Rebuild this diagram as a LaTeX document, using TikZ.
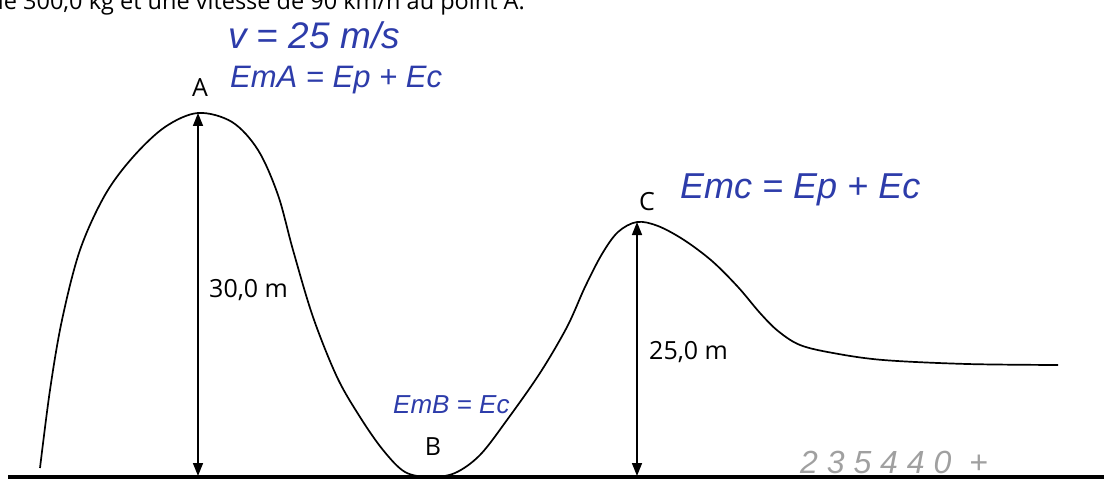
\documentclass[tikz,border=0pt]{standalone}
\usepackage{fontspec}
\setmainfont{Open Sans}
\newfontfamily\hand{Liberation Sans}
\usetikzlibrary{arrows.meta}
\definecolor{ink}{RGB}{45,60,170}
\definecolor{pencil}{RGB}{160,160,160}
\begin{document}
\begin{tikzpicture}[x=1pt,y=-1pt,
  track/.style={line width=1.7pt,line join=round},
  ground/.style={line width=4pt},
  dim/.style={line width=1.5pt,{Triangle[width=10pt,length=13pt]}-{Triangle[width=10pt,length=13pt]}},
  lbl/.style={inner sep=0pt,font=\fontsize{25}{29}\selectfont},
  hw/.style={inner sep=0pt,text=ink,font={\hand\itshape\fontsize{#1}{#1}\selectfont}},
  pen/.style={inner sep=0pt,text=pencil,font={\hand\itshape\fontsize{#1}{#1}\selectfont}}]
\useasboundingbox (0,0) rectangle (1104,484);
\clip (0,0) rectangle (1104,484);
% cut-off line of text at the top
\node[anchor=base east,inner sep=0pt,font=\fontsize{23.5}{27}\selectfont] (top) at (525,10) {de 300,0 kg et une vitesse de 90 km/h au point A.};
% ground
\coordinate (g0) at (8,477);
\coordinate (g1) at (1104,477);
\draw[ground] (g0) -- (g1);
% track
\draw[track] plot[smooth,tension=0.55] coordinates {
 (40,468) (50,390) (62,320) (80,250) (105,195) (133,157) (165,127) (198,113)
 (232,122) (258,150) (278,195) (293,250) (313,317) (337,377) (360,417) (383,450)
 (405,472) (430,477) (455,473) (480,455) (507,420) (540,373) (567,327) (585,287)
 (602,254) (618,232) (637,222) (658,226) (684,240) (712,261) (738,287) (760,313)
 (778,331) (800,345) (833,353) (883,360) (967,364) (1058,365)};
% dimension arrows
\coordinate (Atop) at (198,113);
\coordinate (Abot) at (198,476);
\coordinate (Ctop) at (637,222);
\coordinate (Cbot) at (637,476);
\draw[dim] (Abot) -- (Atop);
\draw[dim] (Cbot) -- (Ctop);
% printed labels
\node[lbl] (A) at (200,88) {A};
\node[lbl] (B) at (433,447) {B};
\node[lbl] (C) at (647,202) {C};
\node[lbl,anchor=west] (h1) at (209,290) {30,0 m};
\node[lbl,anchor=west] (h2) at (649,352) {25,0 m};
% handwritten notes
\node[hw=37pt,anchor=west] (v) at (228,35) {v = 25 m/s};
\node[hw=31pt,anchor=west] (emA) at (230,80) {EmA = Ep + Ec};
\node[hw=36pt,anchor=west] (emC) at (680,190) {Emc = Ep + Ec};
\node[hw=26pt,anchor=west] (emB) at (393,405) {EmB = Ec};
\node[pen=32pt,anchor=west] (sum) at (800,462) {2 3 5 4 4 0 \ +};
\end{tikzpicture}
\end{document}
